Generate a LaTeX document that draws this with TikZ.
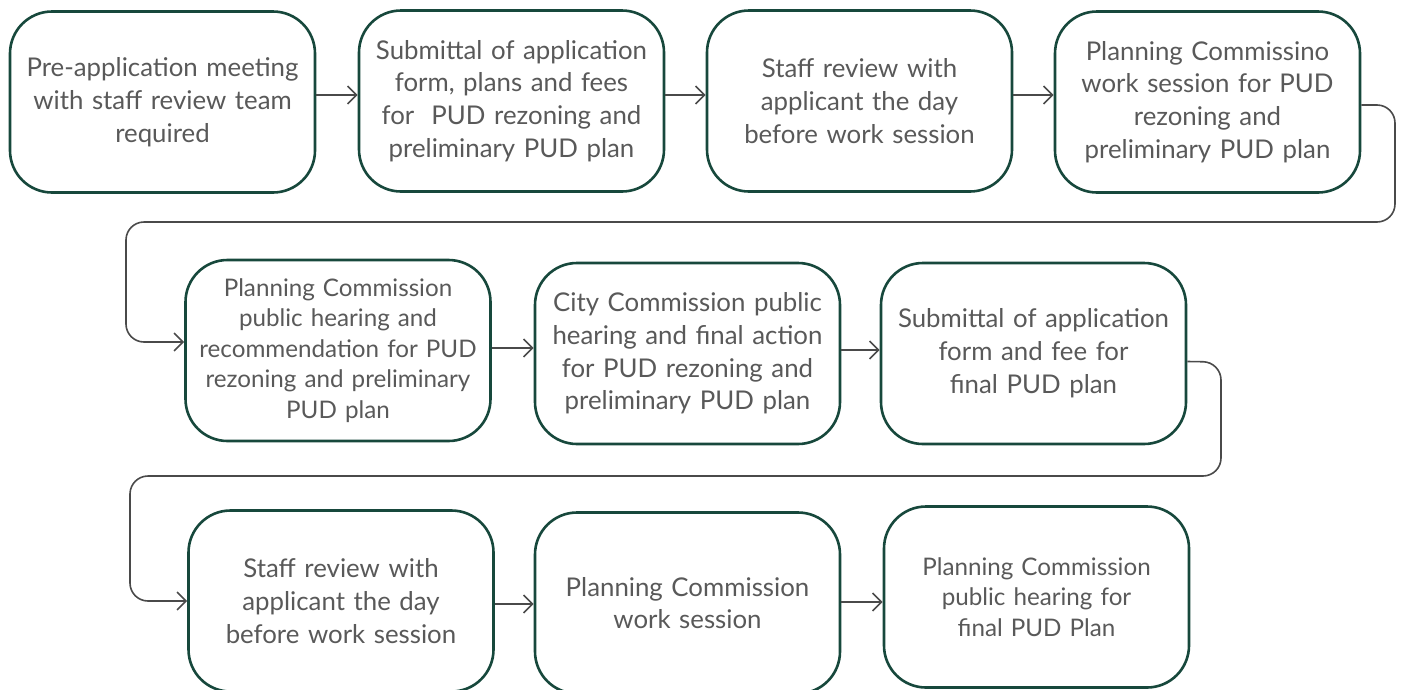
\documentclass[tikz,border=0pt]{standalone}
\usepackage{fontspec}
\setmainfont{Lato}
\usetikzlibrary{arrows.meta,calc}
\definecolor{boxline}{HTML}{17483C}
\definecolor{txt}{HTML}{595959}
\definecolor{conn}{HTML}{4A4A4A}
\tikzset{
  stepbox/.style={draw=boxline, line width=2.6pt, rounded corners=42pt, fill=white,
    minimum width=305pt, minimum height=181pt, inner sep=0pt, align=center,
    text=txt, text width=296pt},
  big/.style={font=\fontsize{25.8}{32.8}\selectfont},
  small/.style={font=\fontsize{24.2}{30.5}\selectfont},
  conn/.style={draw=conn, line width=1.6pt, -{Straight Barb[length=9pt,width=18pt,line width=1.6pt]}},
  wrap/.style={conn, rounded corners=18pt}
}
\begin{document}
\begin{tikzpicture}[x=1pt,y=-1pt]
\useasboundingbox (0,0) rectangle (1411,689);
% row 1
\node[stepbox,big] (b1) at (162.5,102) {Pre-application meeting\\with staff review team\\required};
\node[stepbox,big] (b2) at (511.5,101) {Submittal of application\\form, plans and fees\\for\ \ PUD rezoning and\\preliminary PUD plan};
\node[stepbox,big] (b3) at (859.5,101) {Staff review with\\applicant the day\\before work session};
\node[stepbox,big] (b4) at (1207.5,102) {Planning Commissino\\work session for PUD\\rezoning and\\preliminary PUD plan};
% row 2
\node[stepbox,small] (b5) at (338,350.5) {Planning Commission\\public hearing and\\recommendation for PUD\\rezoning and preliminary\\PUD plan};
\node[stepbox,big] (b6) at (687.5,353.5) {City Commission public\\hearing and final action\\for PUD rezoning and\\preliminary PUD plan};
\node[stepbox,big] (b7) at (1033.5,353.5) {Submittal of application\\form and fee for\\final PUD plan};
% row 3
\node[stepbox,big] (b8) at (341,601) {Staff review with\\applicant the day\\before work session};
\node[stepbox,big] (b9) at (687.5,603) {Planning Commission\\work session};
\node[stepbox,small] (b10) at (1036.5,597) {Planning Commission\\public hearing for\\final PUD Plan};
% straight connectors
\coordinate (s1) at ([yshift=7pt]b1.east);
\coordinate (s2) at ([yshift=6pt]b2.east);
\coordinate (s3) at ([yshift=6pt]b3.east);
\coordinate (s5) at ([yshift=2.5pt]b5.east);
\coordinate (s6) at ([yshift=3.5pt]b6.east);
\coordinate (s8) at ([yshift=-3pt]b8.east);
\coordinate (s9) at ([yshift=1pt]b9.east);
\draw[conn] (s1) -- (s1 -| b2.west);
\draw[conn] (s2) -- (s2 -| b3.west);
\draw[conn] (s3) -- (s3 -| b4.west);
\draw[conn] (s5) -- (s5 -| b6.west);
\draw[conn] (s6) -- (s6 -| b7.west);
\draw[conn] (s8) -- (s8 -| b9.west);
\draw[conn] (s9) -- (s9 -| b10.west);
% wrap connectors
\coordinate (w1a) at (1395,105);
\coordinate (w1b) at (1395,222);
\coordinate (w1c) at (126,222);
\draw[wrap] ([yshift=-3pt]b4.east) -- (w1a) -- (w1b) -- (w1c) |- ([yshift=8.5pt]b5.west);
\coordinate (w2a) at (1221,362);
\coordinate (w2b) at (1221,476);
\coordinate (w2c) at (130,476);
\draw[wrap] ([yshift=-8pt]b7.east) -- (w2a) -- (w2b) -- (w2c) |- (b8.west);
\end{tikzpicture}
\end{document}
